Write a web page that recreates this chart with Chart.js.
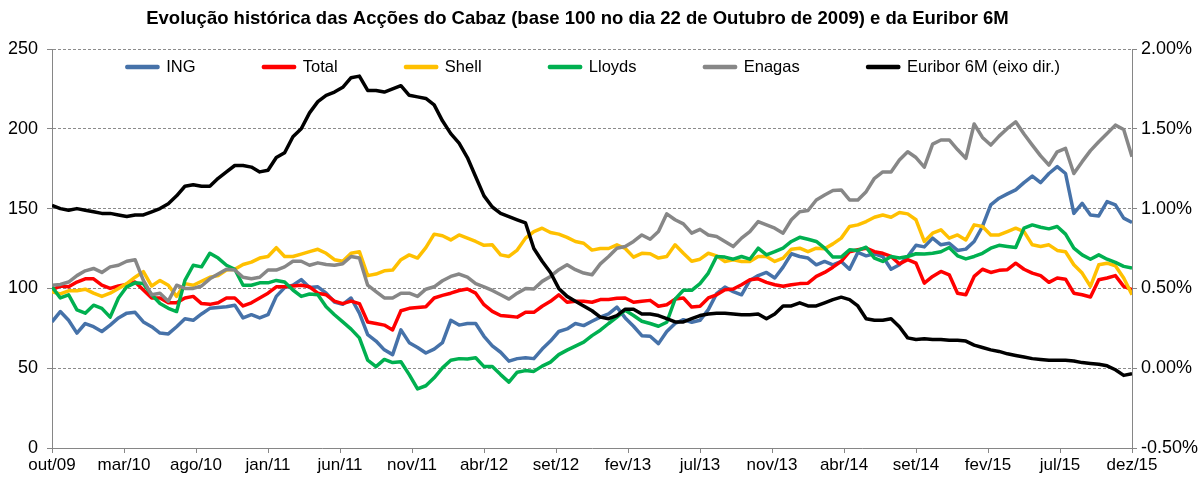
<!DOCTYPE html>
<html>
<head>
<meta charset="utf-8">
<script src="https://cdn.jsdelivr.net/npm/chart.js@4.4.0/dist/chart.umd.min.js"></script>
<style>
  html, body { margin: 0; padding: 0; background: #fff; }
</style>
</head>
<body>
<canvas id="chart" width="1200" height="477"></canvas>
<script>
// month labels on the time axis (evenly spaced slots)
var tickLabels = ['out/09', 'mar/10', 'ago/10', 'jan/11', 'jun/11', 'nov/11', 'abr/12', 'set/12',
    'fev/13', 'jul/13', 'nov/13', 'abr/14', 'set/14', 'fev/15', 'jul/15', 'dez/15'];

// base 100 on 22/10/2009, sampled evenly from out/09 to dez/15
var ing = [
    79, 85.5, 80, 72, 78, 76, 73, 77, 81.5, 84.5,
    85, 79, 76, 72, 71.5, 76, 81, 80, 84, 87.5,
    88, 88.5, 89.5, 81.5, 83.5, 81.5, 83.5, 95, 100.5, 102,
    105.5, 100.5, 101, 97, 91.5, 90, 94, 84.5, 71, 67,
    61.5, 58.5, 74, 66, 63, 59.5, 62, 66, 80, 77,
    78, 78, 70, 64, 60, 54.4, 56, 56.5, 56, 62,
    67, 73, 74.6, 78, 76.7, 79.4, 82, 84, 88.3, 81.5,
    76.3, 70.4, 70, 65.4, 73, 78, 80.4, 78.8, 80, 86.7,
    96.7, 100.8, 98, 96, 105, 108, 110, 106.5, 113.3, 121.7,
    120, 119, 114.8, 116.9, 114.8, 116.9, 112, 122.5, 120.4, 121.7,
    120, 112, 114.8, 120, 127, 126, 131.5, 127.3, 128.3, 123.8,
    124.6, 129.4, 138.8, 152.3, 156.5, 159.2, 161.7, 166.3, 170.4, 166.3,
    172, 176.3, 172, 147, 153.3, 146, 145.4, 154.4, 152.3, 144,
    141.3
];
var total = [
    99, 101.5, 101, 104, 106, 106, 102, 100, 101.5, 102.5,
    104, 99, 94, 94, 91, 91, 94, 95, 90.5, 90,
    91, 94, 94, 89, 91, 94, 97, 101, 101, 101.5,
    102, 101, 97, 96, 92, 90.5, 92, 90.5, 79, 78,
    77, 74, 86, 87.5, 88, 88.5, 94, 95.6, 97, 98.7,
    99.6, 97, 89.8, 85.6, 83, 82.5, 82, 85, 85, 88.8,
    91.9, 96, 91.3, 91.9, 91.9, 91.3, 93, 93, 93.8, 94,
    91.3, 92, 92.5, 88.8, 89.8, 93.3, 94, 88.3, 88.8, 94,
    96, 99.2, 99.6, 102.3, 105.4, 106, 103.8, 102.3, 101.3, 102.3,
    103, 103.3, 107.5, 110, 113.3, 116.9, 123, 124.2, 125.2, 123,
    122, 120, 115.4, 118, 115.8, 103.3, 107.5, 110.6, 108.5, 97,
    96, 107.5, 112, 110, 111.3, 111.7, 115.8, 112, 109.6, 108,
    103.8, 106.5, 105.8, 97, 96, 94.6, 105.4, 106.5, 108, 101.3,
    99.2
];
var shell = [
    98, 96.5, 98.5, 98.5, 99.5, 97, 95, 97, 100, 103,
    107, 110.5, 101.5, 105, 102, 95, 103, 102, 104.5, 107,
    108, 111.5, 112, 115, 116.5, 119, 120, 125.5, 120, 120,
    121.5, 123, 124.5, 122, 118, 117, 122, 123, 108, 109,
    111, 111.5, 118, 121, 119, 125.5, 134, 133, 130.4, 133.5,
    131.5, 129.4, 127, 127.3, 121, 120, 124, 131.5, 135.6, 137.7,
    135, 134, 132, 129.4, 128.3, 124, 125, 125, 127.3, 125,
    119.6, 122, 121.7, 119, 120, 127.3, 122, 117, 118.3, 122,
    120.4, 116.9, 117.9, 116.9, 116.9, 120, 120, 116.9, 119, 124.6,
    125.2, 123, 125.2, 124.8, 127.9, 131.5, 138.8, 139.8, 141.9, 144.6,
    146, 144.6, 147.5, 146.7, 143, 129.4, 134.6, 136.7, 131.5, 133.5,
    130.4, 139.8, 138.8, 133.5, 133.5, 135.6, 137.7, 135.6, 127.3, 126.3,
    127.3, 123.8, 123, 114.8, 109.6, 101.3, 114.8, 115.8, 114.2, 106.5,
    96
];
var lloyds = [
    101, 94, 96, 86.5, 84.5, 89.5, 87.5, 82, 94, 101,
    103.5, 103, 96, 90.5, 87.5, 85.5, 105, 114.5, 113.5, 122,
    119, 114.5, 112, 102, 102, 103.5, 103.5, 105, 104, 99,
    95, 96.5, 96, 88.5, 83.5, 79, 74.5, 69, 55, 51,
    55.5, 53.5, 54, 46, 37, 39, 44, 50.2, 55, 56,
    55.8, 56.5, 51, 51, 46, 41.3, 47.5, 48.5, 48, 51.3,
    53.8, 58.5, 61.3, 63.8, 66.3, 70.4, 73.8, 78, 82, 86.3,
    83, 79.4, 78, 76.3, 78.8, 93.3, 98.8, 98.8, 103, 109.6,
    120, 119.6, 118.3, 120, 118.3, 125.2, 121, 123, 125.2, 129.4,
    132, 130.8, 129.4, 125.2, 119.6, 119.6, 124.2, 123.8, 125.8, 119,
    116.9, 120, 119, 120, 121.7, 121.5, 122, 123, 125.6, 120.4,
    118.5, 120, 122, 125.2, 127, 126.3, 125.6, 137.7, 139.8, 138.3,
    137.3, 138.8, 134, 125.2, 121, 118.3, 121, 118.3, 116.3, 113.8,
    112.7
];
var enagas = [
    102, 102.5, 104, 108, 111, 112.5, 110, 113.5, 114.5, 117,
    118, 105, 96, 97, 92, 102, 100, 100, 101.5, 106,
    109, 112, 111.5, 107, 106, 107, 111.5, 111.5, 113.5, 117,
    117, 114.5, 116, 115, 114.5, 115.5, 120, 119, 102, 98,
    94, 94, 97, 97, 95, 99.5, 101, 104.8, 107.5, 109,
    107, 103, 101, 98.7, 96, 93.3, 97, 100, 99.6, 104.4,
    107.5, 111.7, 114.8, 111.7, 109.6, 108.5, 115.4, 120, 125.2, 126.2,
    129.4, 133.5, 130.8, 135.6, 146.7, 143, 140.4, 134.6, 137, 133.5,
    132.5, 129.4, 126.2, 131.5, 135.6, 141.9, 139.8, 137.7, 134.6, 143,
    148, 148.8, 155.4, 158.5, 161.3, 161.7, 155.4, 155.4, 160.6, 169,
    173, 173, 180.4, 185.6, 182, 176, 190.4, 193, 193, 187,
    181.5, 203, 194.6, 189.8, 195.4, 200.2, 204.4, 196.7, 189.8, 183,
    177.3, 185.6, 187.7, 172, 179.4, 186.3, 191.9, 197, 202.3, 199.6,
    182.5
];
// Euribor 6M in %, right axis
var euribor = [
    1.02, 1.00, 0.99, 1.00, 0.99, 0.98, 0.97, 0.97, 0.96, 0.95,
    0.96, 0.96, 0.98, 1.00, 1.03, 1.08, 1.14, 1.15, 1.14, 1.14,
    1.19, 1.23, 1.27, 1.27, 1.26, 1.23, 1.24, 1.32, 1.35, 1.45,
    1.50, 1.60, 1.67, 1.71, 1.73, 1.76, 1.82, 1.83, 1.74, 1.74,
    1.73, 1.75, 1.77, 1.71, 1.70, 1.69, 1.65, 1.55, 1.47, 1.41,
    1.32, 1.20, 1.08, 1.01, 0.97, 0.95, 0.93, 0.91, 0.75, 0.67,
    0.60, 0.50, 0.45, 0.42, 0.39, 0.36, 0.32, 0.31, 0.33, 0.37,
    0.37, 0.34, 0.34, 0.33, 0.31, 0.29, 0.29, 0.31, 0.33, 0.34,
    0.345, 0.345, 0.34, 0.335, 0.335, 0.34, 0.31, 0.34, 0.39, 0.39,
    0.41, 0.39, 0.39, 0.41, 0.43, 0.445, 0.43, 0.39, 0.31, 0.30,
    0.30, 0.31, 0.26, 0.19, 0.18, 0.185, 0.18, 0.18, 0.175, 0.175,
    0.17, 0.145, 0.13, 0.115, 0.105, 0.09, 0.08, 0.07, 0.06, 0.055,
    0.05, 0.05, 0.05, 0.045, 0.035, 0.03, 0.025, 0.015, -0.01, -0.045,
    -0.035
];

// samples are evenly spaced across the label slots
function toPoints(values) {
    var last = values.length - 1;
    return values.map((v, i) => ({ x: i * (tickLabels.length - 1) / last, y: v }));
}

Chart.defaults.font.family = "Arial, 'Liberation Sans', sans-serif";
Chart.defaults.color = '#000';

var axisGrey = '#868686';
var gridGrey = '#8c8c8c';
var legendPad = 68;
var legendFont = 16.5;

function line(label, values, color, order, axis, width) {
    return {
        label: label,
        data: toPoints(values),
        borderColor: color,
        backgroundColor: color,
        borderWidth: width || 3.5,
        pointRadius: 0,
        tension: 0,
        borderJoinStyle: 'round',
        yAxisID: axis || 'y',
        order: order
    };
}

// legend sits inside the plot (under the top gridline), title slightly left of centre
var placeBoxes = {
    id: 'placeBoxes',
    afterInit(chart) {
        var lg = chart.legend;
        var fit = lg.fit;
        lg.fit = function () { fit.call(this); this.height = 0; };
    },
    afterLayout(chart) {
        var t = chart.titleBlock;
        t.left = 0; t.right = 1155;
        var lg = chart.legend;
        lg.left = 0; lg.right = 1187;
        lg.top = 67 - legendPad - legendFont / 2;
        lg.bottom = lg.top + 90;
    }
};

const ctx = document.getElementById('chart').getContext('2d');
var chart = new Chart(ctx, {
    type: 'line',
    data: {
        datasets: [
            line('ING', ing, '#4672A9', 6),
            line('Total', total, '#FF0000', 5),
            line('Shell', shell, '#FFC000', 4),
            line('Lloyds', lloyds, '#00B050', 3),
            line('Enagas', enagas, '#878787', 2),
            line('Euribor 6M (eixo dir.)', euribor, '#000000', 1, 'y1', 3.5)
        ]
    },
    options: {
        responsive: false,
        animation: false,
        layout: { padding: 0 },
        plugins: {
            title: {
                display: true,
                text: 'Evolução histórica das Acções do Cabaz (base 100 no dia 22 de Outubro de 2009) e da Euribor 6M',
                color: '#000',
                font: { size: 18.5, weight: 'bold' },
                padding: { top: 8, bottom: 18.8 }
            },
            legend: {
                position: 'top',
                labels: {
                    boxWidth: 31,
                    boxHeight: 1,
                    padding: legendPad,
                    color: '#000',
                    font: { size: legendFont },
                    sort: (a, b) => a.datasetIndex - b.datasetIndex
                }
            },
            tooltip: { enabled: false }
        },
        scales: {
            x: {
                type: 'linear',
                min: 0,
                max: tickLabels.length - 1,
                afterFit: s => { s.height = 29; },
                ticks: {
                    stepSize: 1,
                    autoSkip: false,
                    maxRotation: 0,
                    padding: 2,
                    font: { size: 17 },
                    callback: v => tickLabels[v]
                },
                grid: { drawOnChartArea: false, tickLength: 5, color: axisGrey, tickColor: axisGrey },
                border: { color: axisGrey, width: 1 }
            },
            y: {
                position: 'left',
                min: 0,
                max: 250,
                afterFit: s => { s.width = 52; },
                ticks: { stepSize: 50, padding: 9, font: { size: 18 } },
                grid: {
                    color: c => (c.tick && c.tick.value === 0 ? 'rgba(0,0,0,0)' : gridGrey),
                    tickColor: axisGrey,
                    tickLength: 5
                },
                border: { color: axisGrey, width: 1, dash: [3, 2] }
            },
            y1: {
                position: 'right',
                min: -0.5,
                max: 2,
                afterFit: s => { s.width = 68; },
                ticks: {
                    stepSize: 0.5,
                    padding: 4,
                    font: { size: 18 },
                    callback: v => v.toFixed(2) + '%'
                },
                grid: { drawOnChartArea: false, tickColor: axisGrey, tickLength: 5 },
                border: { color: axisGrey, width: 1 }
            }
        }
    },
    plugins: [placeBoxes]
});
</script>
</body>
</html>
